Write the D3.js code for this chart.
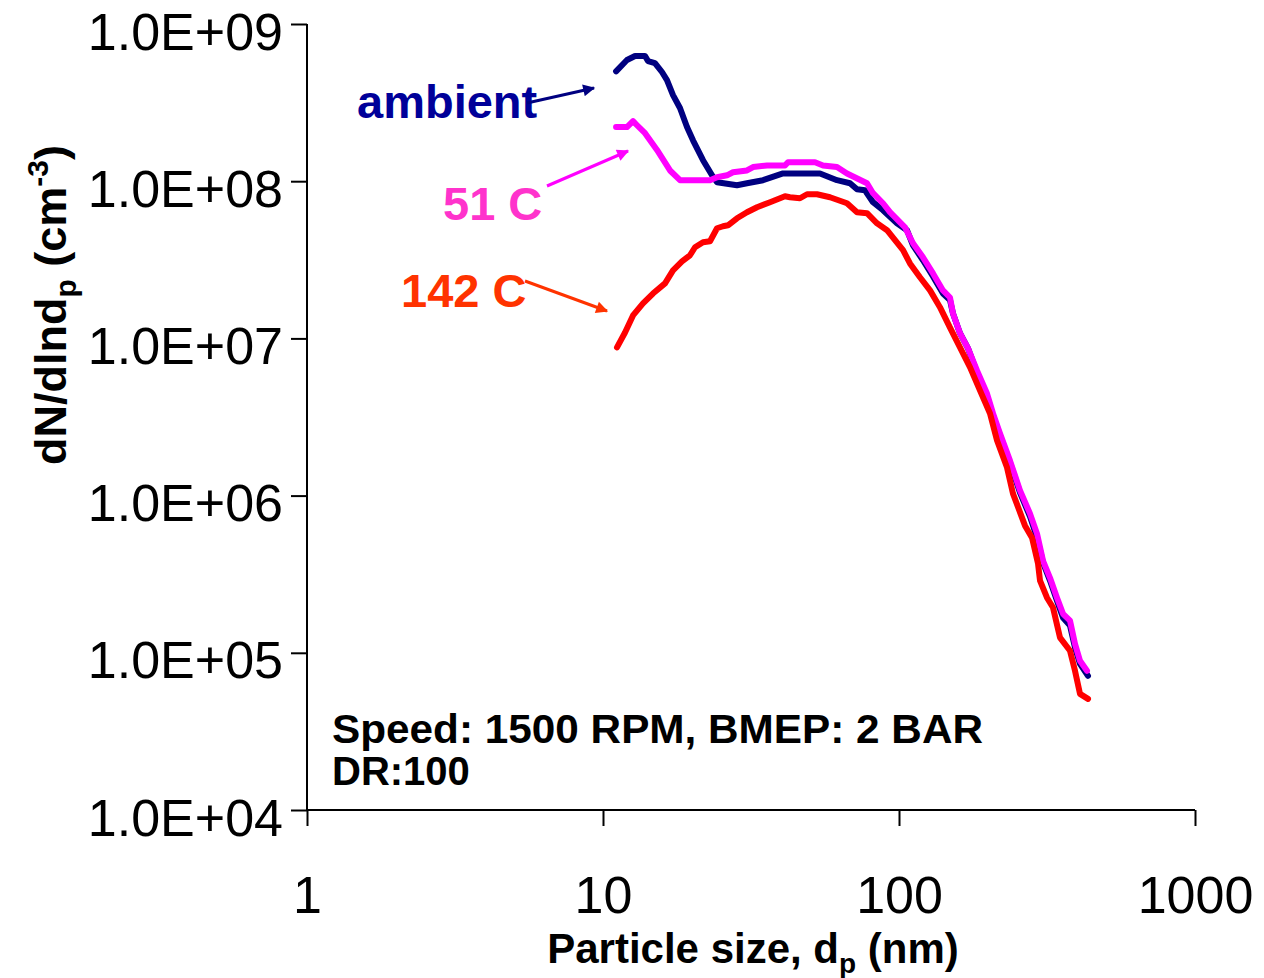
<!DOCTYPE html>
<html>
<head>
<meta charset="utf-8">
<script src="https://cdn.jsdelivr.net/npm/d3@7"></script>
<style>
  body { margin: 0; background: #fff; }
  svg { font-family: "Liberation Sans", Arial, sans-serif; }
</style>
</head>
<body>
<svg width="1264" height="978"></svg>
<script>
const xTicks = [1, 10, 100, 1000];
const yTicks = [1e4, 1e5, 1e6, 1e7, 1e8, 1e9];
const yTickLabels = ["1.0E+04", "1.0E+05", "1.0E+06", "1.0E+07", "1.0E+08", "1.0E+09"];

// ambient
const ambientDp = [11.07, 12.05, 12.83, 13.87, 14.19, 14.98, 15.82, 16.45, 17.24, 18.2, 19.22, 20.14, 21.77, 23.35, 24.28, 28.36, 30.65, 34.72, 40.56, 54.09, 61.73, 68.31, 72.13, 76.75, 81.7, 88.31, 98.45, 106.4, 111.5, 120.5, 130.3, 140.8, 148.7, 152.2, 160.7, 171.1, 183.4, 198.3, 207.8, 219.4, 237.1, 256.3, 277.1, 292.6, 306.6, 323.7, 341.8, 358.2, 378.2, 393.2, 408.8, 435];
const ambientN = [5.0e8, 5.9e8, 6.26e8, 6.26e8, 5.81e8, 5.64e8, 4.95e8, 4.4e8, 3.53e8, 2.92e8, 2.21e8, 1.82e8, 1.36e8, 1.09e8, 9.86e7, 9.43e7, 9.71e7, 1.015e8, 1.12e8, 1.12e8, 1.015e8, 9.71e7, 8.89e7, 8.76e7, 7.35e7, 6.54e7, 5.4e7, 4.88e7, 3.91e7, 3.14e7, 2.48e7, 1.93e7, 1.75e7, 1.44e7, 1.08e7, 8.64e6, 6.07e6, 4.27e6, 3.23e6, 2.41e6, 1.62e6, 1.045e6, 7.35e5, 5.4e5, 3.74e5, 2.88e5, 2.14e5, 1.67e5, 1.49e5, 1.08e5, 8.51e4, 7.14e4];

// 51 C
const warmDp = [11.07, 12.05, 12.63, 13.03, 13.87, 15.22, 16.84, 18.2, 22.99, 24.28, 26.24, 27.49, 30.65, 32.13, 35.83, 41.2, 42.17, 52.03, 55.37, 61.73, 66.73, 77.97, 81.7, 88.31, 93.24, 104.8, 111.5, 120.5, 130.3, 140.8, 148.7, 152.2, 160.7, 171.1, 183.4, 198.3, 207.8, 219.4, 237.1, 256.3, 277.1, 292.6, 306.6, 323.7, 341.8, 358.2, 378.2, 393.2, 408.8, 431.6];
const warmN = [2.21e8, 2.21e8, 2.41e8, 2.27e8, 2.02e8, 1.58e8, 1.17e8, 1.015e8, 1.015e8, 1.06e8, 1.09e8, 1.14e8, 1.17e8, 1.23e8, 1.26e8, 1.26e8, 1.32e8, 1.32e8, 1.26e8, 1.23e8, 1.12e8, 9.71e7, 8.39e7, 7.24e7, 6.35e7, 5.09e7, 4.03e7, 3.28e7, 2.59e7, 2.02e7, 1.82e7, 1.44e7, 1.08e7, 8.64e6, 6.25e6, 4.46e6, 3.33e6, 2.48e6, 1.67e6, 1.08e6, 7.68e5, 5.73e5, 3.85e5, 3.0e5, 2.24e5, 1.77e5, 1.6e5, 1.14e5, 8.89e4, 7.68e4];

// 142 C
const hotDp = [11.15, 11.87, 12.63, 13.65, 14.75, 16.2, 17.24, 18.49, 19.67, 20.46, 21.77, 22.99, 24.28, 25.44, 26.44, 28.36, 30.65, 33.14, 36.67, 41.2, 42.83, 46.29, 48.9, 52.84, 58.47, 66.73, 72.13, 77.97, 84.28, 91.12, 103.2, 108.9, 117.7, 127.3, 137.5, 148.7, 160.7, 173.8, 187.7, 203.0, 214.4, 231.7, 242.7, 266.5, 281.4, 294.9, 299.5, 316.2, 331.3, 349.9, 378.2, 393.2, 408.8, 435];
const hotN = [8.77e6, 1.09e7, 1.4e7, 1.67e7, 1.93e7, 2.24e7, 2.71e7, 3.09e7, 3.38e7, 3.8e7, 4.09e7, 4.15e7, 5.02e7, 5.17e7, 5.24e7, 5.81e7, 6.35e7, 6.83e7, 7.35e7, 8.02e7, 7.91e7, 7.79e7, 8.26e7, 8.26e7, 7.91e7, 7.24e7, 6.35e7, 6.26e7, 5.4e7, 4.88e7, 3.64e7, 3.0e7, 2.45e7, 2.02e7, 1.58e7, 1.17e7, 8.77e6, 6.54e6, 4.67e6, 3.33e6, 2.24e6, 1.51e6, 1.03e6, 6.44e5, 5.4e5, 3.69e5, 2.88e5, 2.24e5, 1.94e5, 1.25e5, 1.03e5, 7.68e4, 5.48e4, 5.09e4];

const series = [
  { dp: ambientDp, n: ambientN, color: "#000080" },
  { dp: warmDp, n: warmN, color: "#FF00FF" },
  { dp: hotDp, n: hotN, color: "#FF0000" },
];

const svg = d3.select("svg");

const x = d3.scaleLog().domain([1, 1000]).range([307, 1195]);
const y = d3.scaleLog().domain([1e4, 1e9]).range([810, 24]);

// axes
const xAxis = svg.append("g")
  .attr("transform", "translate(0,810)")
  .call(d3.axisBottom(x).tickValues(xTicks).tickSize(16).tickFormat(d3.format("d")));
const yAxis = svg.append("g")
  .attr("transform", "translate(307,0)")
  .call(d3.axisLeft(y).tickValues(yTicks).tickSize(16).tickFormat((d, i) => yTickLabels[i]));

[xAxis, yAxis].forEach(a => {
  a.selectAll("path").attr("stroke", "#000").attr("stroke-width", 2);
  a.selectAll("line").attr("stroke", "#000").attr("stroke-width", 2);
  a.selectAll("text").attr("fill", "#000").attr("font-size", 52)
    .attr("font-family", "'Liberation Sans', Arial, sans-serif");
});
xAxis.selectAll("path").attr("d", "M307,0H1195");
yAxis.selectAll("path").attr("d", "M0,24V810");
xAxis.selectAll("text").attr("y", 103).attr("dy", 0);
yAxis.selectAll("text").attr("x", -24).attr("dy", 0).attr("y", 25);

// curves
const line = d3.line().x(d => x(d[0])).y(d => y(d[1]));
series.forEach(s => {
  svg.append("path")
    .datum(s.dp.map((v, i) => [v, s.n[i]]))
    .attr("d", line)
    .attr("fill", "none")
    .attr("stroke", s.color)
    .attr("stroke-width", 6)
    .attr("stroke-linejoin", "round")
    .attr("stroke-linecap", "round");
});

// axis titles
const xt = svg.append("text")
  .attr("x", 753).attr("y", 963)
  .attr("text-anchor", "middle")
  .attr("font-size", 42).attr("font-weight", "bold");
xt.append("tspan").text("Particle size, d");
xt.append("tspan").attr("font-size", 28).attr("dy", 10).text("p");
xt.append("tspan").attr("dy", -10).text(" (nm)");

const yt = svg.append("text")
  .attr("transform", "translate(66,305) rotate(-90)")
  .attr("text-anchor", "middle")
  .attr("font-size", 45).attr("font-weight", "bold");
yt.append("tspan").text("dN/dlnd");
yt.append("tspan").attr("font-size", 30).attr("dy", 10).text("p");
yt.append("tspan").attr("dy", -10).text(" (cm");
yt.append("tspan").attr("font-size", 30).attr("dy", -18).text("-3");
yt.append("tspan").attr("dy", 18).text(")");

// conditions note (two lines)
const note = svg.append("text")
  .attr("font-size", 40).attr("font-weight", "bold");
note.append("tspan").attr("x", 332).attr("y", 743)
  .attr("textLength", 651).attr("lengthAdjust", "spacingAndGlyphs")
  .text("Speed: 1500 RPM, BMEP: 2 BAR");
note.append("tspan").attr("x", 332).attr("y", 785)
  .text("DR:100");

// labels with arrows
const notes = [
  { text: "ambient", tx: 357, ty: 118, textColor: "#000099", color: "#000080", from: [527, 103], to: [594, 88] },
  { text: "51 C", tx: 443, ty: 220, textColor: "#FF33CC", color: "#FF00FF", from: [547, 186], to: [628, 151] },
  { text: "142 C", tx: 401, ty: 307, textColor: "#FF3300", color: "#FF3300", from: [525, 281], to: [607, 311] },
];
const defs = svg.append("defs");
notes.forEach((n, i) => {
  defs.append("marker")
    .attr("id", "arr" + i)
    .attr("viewBox", "0 0 10 10")
    .attr("refX", 9).attr("refY", 5)
    .attr("markerWidth", 5).attr("markerHeight", 4)
    .attr("markerUnits", "strokeWidth")
    .attr("orient", "auto")
    .append("path").attr("d", "M0,0L10,5L0,10Z").attr("fill", n.color);
  svg.append("text")
    .attr("x", n.tx).attr("y", n.ty)
    .attr("font-size", 47).attr("font-weight", "bold")
    .attr("fill", n.textColor)
    .text(n.text);
  svg.append("line")
    .attr("x1", n.from[0]).attr("y1", n.from[1])
    .attr("x2", n.to[0]).attr("y2", n.to[1])
    .attr("stroke", n.color).attr("stroke-width", 3)
    .attr("marker-end", `url(#arr${i})`);
});
</script>
</body>
</html>
